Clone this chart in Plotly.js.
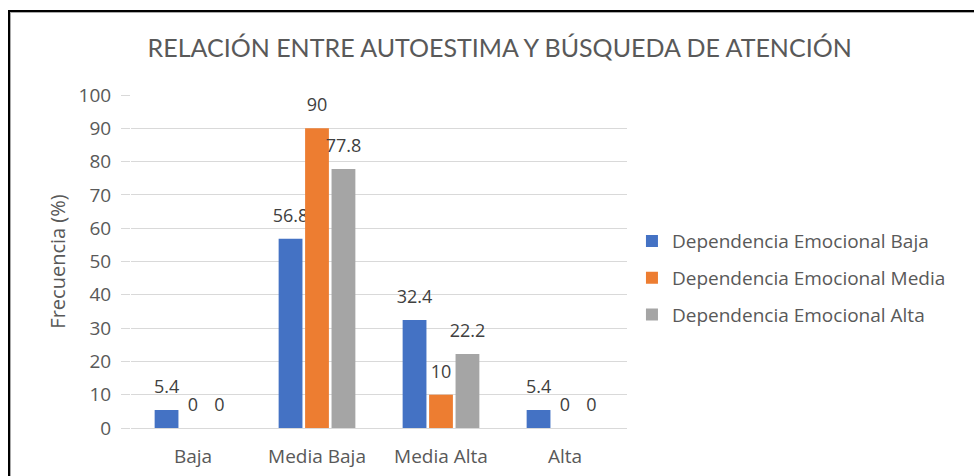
<!DOCTYPE html>
<html>
<head>
<meta charset="utf-8">
<script src="https://cdn.plot.ly/plotly-3.0.1.min.js"></script>
<style>
html,body{margin:0;padding:0;background:#fff;}
#wrap{position:relative;width:974px;height:476px;overflow:hidden;}
#chart{position:absolute;left:0;top:0;width:974px;height:476px;}
#frame{position:absolute;left:8px;top:10px;width:980px;height:480px;border-left:2px solid #000;border-top:2px solid #000;box-shadow:inset 1px 1px 0 #aaa;pointer-events:none;}
</style>
</head>
<body>
<div id="wrap"><div id="chart"></div><div id="frame"></div></div>
<script>
const categories = ["Baja", "Media Baja", "Media Alta", "Alta"];
const seriesNames = ["Dependencia Emocional Baja", "Dependencia Emocional Media", "Dependencia Emocional Alta"];
const depBaja = [5.4, 56.8, 32.4, 5.4];
const depMedia = [0, 90, 10, 0];
const depAlta = [0, 77.8, 22.2, 0];
const colors = ["#4472C4", "#ED7D31", "#A5A5A5"];
const yTicks = [0, 10, 20, 30, 40, 50, 60, 70, 80, 90, 100];

const FONT = "'Open Sans', sans-serif";
const TFONT = "Lato, 'Open Sans', sans-serif";
const allSeries = [depBaja, depMedia, depAlta];
const traces = allSeries.map((vals, i) => ({
  type: "bar",
  name: seriesNames[i],
  x: categories,
  y: vals,
  marker: {color: colors[i]},
  text: vals.map(String),
  texttemplate: "%{text}",
  textposition: "outside",
  constraintext: "none",
  cliponaxis: false,
  textfont: {family: FONT, size: 18, color: "#404040"},
  legendgroup: "g" + i,
  hoverinfo: "x+y+name"
}));

const layout = {
  width: 974,
  height: 476,
  margin: {l: 131, r: 347, t: 95, b: 48},
  paper_bgcolor: "#ffffff",
  plot_bgcolor: "#ffffff",
  barmode: "group",
  bargap: 0.36,
  bargroupgap: 0.1,
  font: {family: FONT, color: "#595959"},
  title: {
    text: "RELACIÓN ENTRE AUTOESTIMA Y BÚSQUEDA DE ATENCIÓN",
    font: {family: TFONT, size: 25, color: "#595959"},
    x: 0.513, xref: "container", xanchor: "center",
    y: 0.899, yref: "container", yanchor: "middle"
  },
  xaxis: {
    showgrid: false,
    showline: false,
    zeroline: false,
    ticks: "",
    tickfont: {family: FONT, size: 19, color: "#595959"},
    ticklabelstandoff: 15
  },
  yaxis: {
    range: [0, 100],
    tickvals: yTicks,
    ticktext: yTicks.map(String),
    showgrid: true,
    gridcolor: "#d9d9d9",
    gridwidth: 1,
    zeroline: true,
    zerolinecolor: "#d9d9d9",
    zerolinewidth: 1,
    showline: false,
    ticks: "outside",
    ticklen: 9,
    tickcolor: "#d9d9d9",
    ticklabelstandoff: 6,
    tickfont: {family: FONT, size: 19, color: "#595959"},
    title: {text: "Frecuencia (%)", font: {family: FONT, size: 20, color: "#595959"}, standoff: 7}
  },
  showlegend: true,
  legend: {
    x: 1.01, xanchor: "left",
    y: 0.45, yanchor: "middle",
    traceorder: "grouped",
    tracegroupgap: 9,
    font: {family: FONT, size: 19, color: "#595959"},
    bgcolor: "rgba(0,0,0,0)"
  }
};

Plotly.newPlot("chart", traces, layout, {displayModeBar: false, staticPlot: true}).then(() => {
  // lift the data labels a little further above the bars, as in the reference
  document.querySelectorAll("#chart text.bartext").forEach(t => {
    const tr = t.getAttribute("transform") || "";
    t.setAttribute("transform", "translate(0,-9) " + tr);
  });
});
</script>
</body>
</html>
